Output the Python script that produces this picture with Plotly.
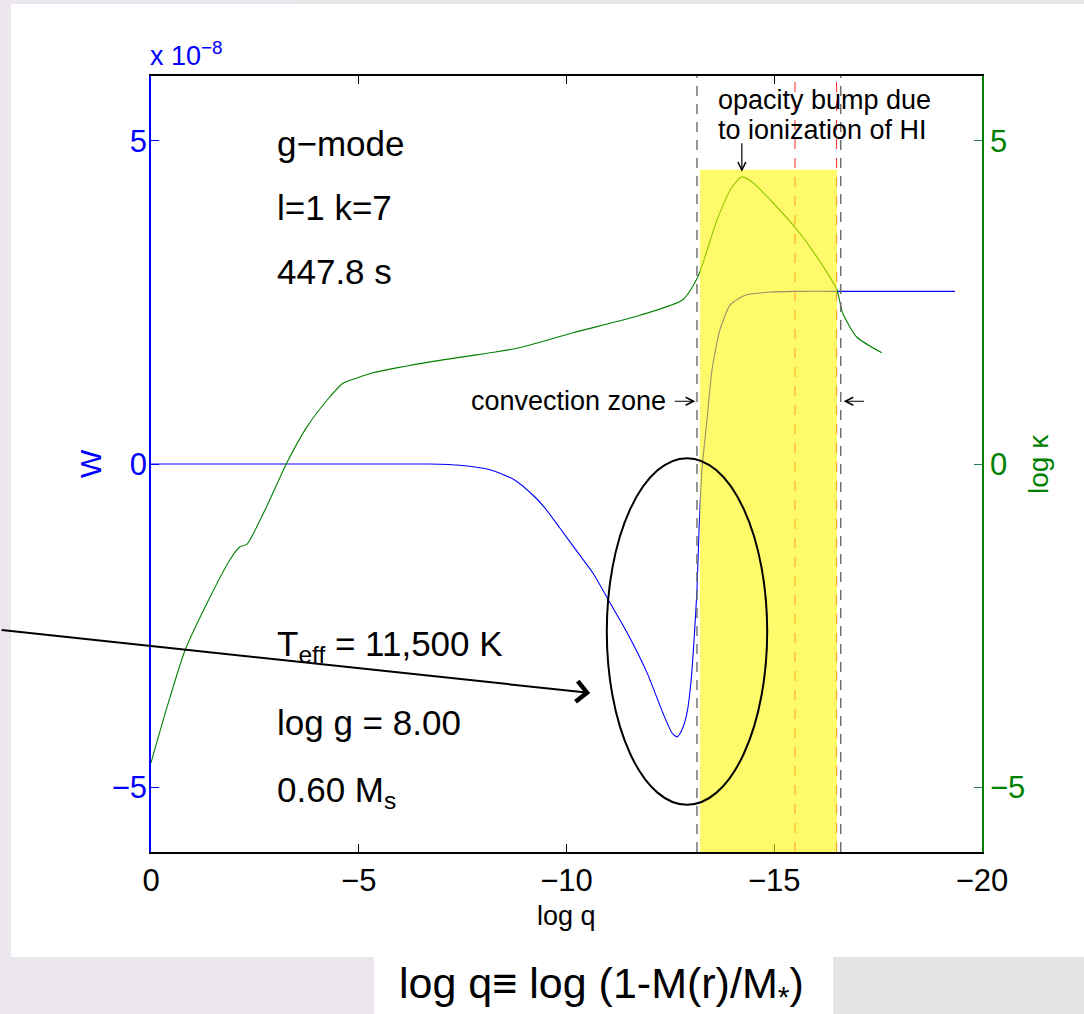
import plotly.graph_objects as go

# ---------------- data ----------------
# W eigenfunction (units of 1e-8) versus log q
logq_w = [0, -1, -2, -3, -4, -5, -6, -6.7, -7.44, -8.16, -8.76, -9.24, -9.48,
          -9.84, -10.32, -10.64, -11.05, -11.46, -11.94, -12.32, -12.54, -12.66,
          -12.78, -12.9, -13.0, -13.07, -13.14, -13.19, -13.26, -13.38, -13.5,
          -13.69, -13.94, -14.3, -14.9, -15.5, -16.5, -17.5, -18.5, -19.35]
w_vals = [0, 0, 0, 0, 0, 0, 0, 0, -0.02, -0.09, -0.25, -0.51, -0.68,
          -0.99, -1.41, -1.69, -2.15, -2.61, -3.23, -3.85, -4.16, -4.22,
          -4.11, -3.85, -3.34, -2.72, -1.95, -1.02, -0.09, 0.68, 1.45,
          2.07, 2.46, 2.61, 2.66, 2.67, 2.67, 2.67, 2.67, 2.67]

# opacity log kappa versus log q
logq_k = [0, -0.385, -0.82, -1.35, -1.90, -2.14, -2.31, -2.79, -3.27,
          -3.75, -4.24, -4.62, -4.96, -5.34, -6.55, -8.16, -8.81, -10.16,
          -11.77, -12.80, -13.16, -13.62, -13.98, -14.22, -14.49, -14.97,
          -15.55, -16.03, -16.34, -16.51, -16.65, -16.99, -17.59]
logk_vals = [-4.62, -3.76, -2.88, -2.15, -1.48, -1.28, -1.24, -0.65, 0.02,
             0.57, 0.99, 1.25, 1.33, 1.41, 1.56, 1.72, 1.79, 2.03,
             2.30, 2.54, 2.89, 3.77, 4.28, 4.44, 4.35, 4.04,
             3.62, 3.20, 2.89, 2.69, 2.33, 1.96, 1.72]

x_ticks = [0, -5, -10, -15, -20]
y_ticks = [-5, 0, 5]

# zone boundaries (log q)
conv_zone = [-13.14, -16.6]      # grey dashed lines
red_lines = [-15.5, -16.5]       # red dashed lines
bump_zone = [-13.21, -16.51]     # yellow band
bump_top = 4.55
ellipse_box = [-10.97, -14.83, -5.27, 0.09]

# ---------------- layout helpers ----------------
W_PX, H_PX = 1084, 1014
ML, MR, MT, MB = 151, 102, 76, 162
PW, PH = W_PX - ML - MR, H_PX - MT - MB


def px_x(px):
    return (px - ML) / PW


def px_y(py):
    return (H_PX - MB - py) / PH


FONT = "Liberation Sans Narrow, Arial Narrow, Liberation Sans, Arial, sans-serif"
BLUE = "#0000ff"
GREEN = "#008000"

fig = go.Figure()
fig.add_trace(go.Scatter(x=logq_w, y=w_vals, mode="lines",
                         line=dict(color=BLUE, width=1.1, shape="spline", smoothing=0.6),
                         yaxis="y", showlegend=False))
fig.add_trace(go.Scatter(x=logq_k, y=logk_vals, mode="lines",
                         line=dict(color=GREEN, width=1.1, shape="spline", smoothing=0.6),
                         yaxis="y2", showlegend=False))

shapes = []
# background panels
shapes.append(dict(type="rect", xref="paper", yref="paper", layer="below",
                   x0=px_x(11), x1=px_x(1084), y0=px_y(957), y1=px_y(4),
                   fillcolor="white", line=dict(width=0)))
shapes.append(dict(type="rect", xref="paper", yref="paper", layer="below",
                   x0=px_x(374), x1=px_x(833), y0=px_y(1014), y1=px_y(957),
                   fillcolor="white", line=dict(width=0)))
shapes.append(dict(type="rect", xref="paper", yref="paper", layer="below",
                   x0=px_x(833), x1=px_x(1084), y0=px_y(1014), y1=px_y(957),
                   fillcolor="#e5e5e5", line=dict(width=0)))
shapes.append(dict(type="rect", xref="paper", yref="paper", layer="below",
                   x0=px_x(300), x1=px_x(1084), y0=px_y(4), y1=px_y(0),
                   fillcolor="#e6e6e8", line=dict(width=0)))
# red dashed lines (under the yellow band)
for xv in red_lines:
    shapes.append(dict(type="line", xref="x", yref="y", layer="below",
                       x0=xv, x1=xv, y0=-6, y1=6,
                       line=dict(color="rgba(255,0,0,0.85)", width=1, dash="10px,9px")))
# yellow band (translucent, above the curves)
shapes.append(dict(type="rect", xref="x", yref="y", layer="above",
                   x0=bump_zone[0], x1=bump_zone[1], y0=-6, y1=bump_top,
                   fillcolor="rgb(255,246,0)", opacity=0.59, line=dict(width=0)))
# grey dashed convection-zone boundaries
for xv in conv_zone:
    shapes.append(dict(type="line", xref="x", yref="y", layer="above",
                       x0=xv, x1=xv, y0=-6, y1=6,
                       line=dict(color="#6a6a6a", width=1.4, dash="10px,8px")))
# ellipse
shapes.append(dict(type="circle", xref="x", yref="y", layer="above",
                   x0=ellipse_box[0], x1=ellipse_box[1],
                   y0=ellipse_box[2], y1=ellipse_box[3],
                   line=dict(color="black", width=2)))

ann = []
BIG = 35
for txt, yv in [("g−mode", 4.96), ("l=1 k=7", 3.97), ("447.8 s", 2.98),
                ("T<sub>eff</sub> = 11,500 K", -2.81), ("log g = 8.00", -4.0),
                ("0.60 M<sub>s</sub>", -5.07)]:
    ann.append(dict(x=-2.98, y=yv, xref="x", yref="y", text=txt, showarrow=False,
                    xanchor="left", yanchor="middle",
                    font=dict(family=FONT, size=BIG, color="black")))

MID = 27
ann.append(dict(x=-13.6, y=5.63, xref="x", yref="y", text="opacity bump due",
                showarrow=False, xanchor="left", yanchor="middle",
                font=dict(family=FONT, size=MID, color="black")))
ann.append(dict(x=-13.6, y=5.16, xref="x", yref="y", text="to ionization of HI",
                showarrow=False, xanchor="left", yanchor="middle",
                font=dict(family=FONT, size=MID, color="black")))
ann.append(dict(x=-14.22, y=4.52, xref="x", yref="y", text="", showarrow=True,
                ax=0, ay=-30, arrowhead=5, arrowsize=1.3, arrowwidth=1.2,
                arrowcolor="black"))
ann.append(dict(x=-12.44, y=0.97, xref="x", yref="y", text="convection zone",
                showarrow=False, xanchor="right", yanchor="middle",
                font=dict(family=FONT, size=MID, color="black")))
# small arrows marking the convection zone
ann.append(dict(x=-13.1, y=0.97, xref="x", yref="y", text="", showarrow=True,
                ax=-22, ay=0, arrowhead=5, arrowsize=1.3, arrowwidth=1.2,
                arrowcolor="black"))
ann.append(dict(x=-16.67, y=0.97, xref="x", yref="y", text="", showarrow=True,
                ax=22, ay=0, arrowhead=5, arrowsize=1.3, arrowwidth=1.2,
                arrowcolor="black"))
# big pointer arrow from outside the axes
ann.append(dict(x=-10.57, y=-3.54, xref="x", yref="y", text="", showarrow=True,
                axref="pixel", ayref="pixel", ax=-590, ay=-63,
                arrowhead=4, arrowsize=2.0, arrowwidth=2, arrowcolor="black"))
# axis labels
ann.append(dict(x=px_x(148), y=px_y(73), xref="paper", yref="paper",
                text="x 10<sup>−8</sup>", showarrow=False, xanchor="left", yanchor="bottom",
                font=dict(family=FONT, size=27, color=BLUE)))
ann.append(dict(x=px_x(90), y=0.5, xref="paper", yref="paper", text="W",
                showarrow=False, textangle=-90, xanchor="center", yanchor="middle",
                font=dict(family=FONT, size=30, color=BLUE)))
ann.append(dict(x=px_x(1038), y=0.5, xref="paper", yref="paper", text="log κ",
                showarrow=False, textangle=-90, xanchor="center", yanchor="middle",
                font=dict(family=FONT, size=28, color=GREEN)))
ann.append(dict(x=0.5, y=px_y(916), xref="paper", yref="paper", text="log q",
                showarrow=False, xanchor="center", yanchor="middle",
                font=dict(family=FONT, size=27, color="black")))
ann.append(dict(x=px_x(601), y=px_y(986), xref="paper", yref="paper",
                text="log q≡ log (1-M(r)/M<sub>*</sub>)", showarrow=False,
                xanchor="center", yanchor="middle",
                font=dict(family="Liberation Sans, Arial, sans-serif", size=43, color="black")))

fig.update_layout(
    width=W_PX, height=H_PX,
    margin=dict(l=ML, r=MR, t=MT, b=MB, pad=0),
    paper_bgcolor="#ece6ee",
    plot_bgcolor="white",
    shapes=shapes,
    annotations=ann,
    showlegend=False,
    xaxis=dict(range=[0, -20], tickmode="array", tickvals=x_ticks,
               showline=True, linecolor="black", linewidth=1.6, mirror="ticks",
               ticks="inside", ticklen=8, tickcolor="black", tickwidth=1,
               showgrid=False, zeroline=False, ticklabelstandoff=0,
               tickfont=dict(family=FONT, size=31, color="black")),
    yaxis=dict(range=[-6, 6], tickmode="array", tickvals=y_ticks,
               showline=True, linecolor=BLUE, linewidth=1.6,
               ticks="inside", ticklen=8, tickcolor=BLUE, tickwidth=1,
               showgrid=False, zeroline=False, ticklabelstandoff=-4,
               tickfont=dict(family=FONT, size=31, color=BLUE)),
    yaxis2=dict(range=[-6, 6], tickmode="array", tickvals=y_ticks,
                overlaying="y", side="right",
                showline=True, linecolor=GREEN, linewidth=1.6,
                ticks="inside", ticklen=8, tickcolor="#2a7a6a", tickwidth=1,
                showgrid=False, zeroline=False,
                tickfont=dict(family=FONT, size=31, color=GREEN)),
)

fig.write_html("out.html")
